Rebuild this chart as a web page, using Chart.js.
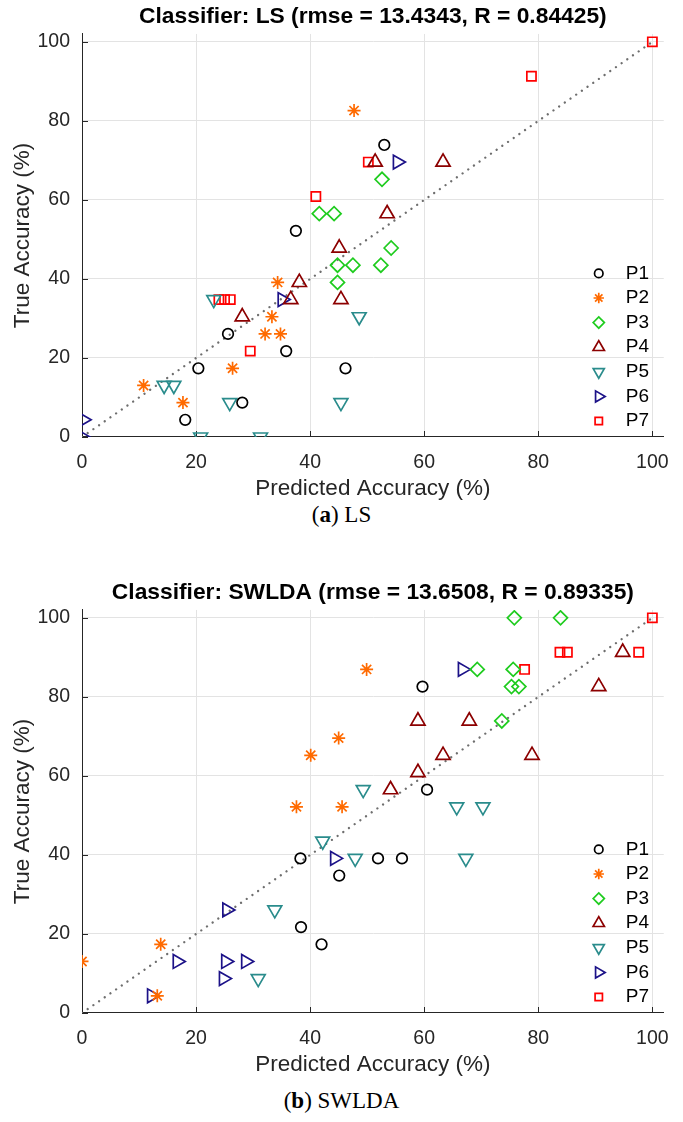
<!DOCTYPE html>
<html>
<head>
<meta charset="utf-8">
<script src="https://cdn.jsdelivr.net/npm/chart.js@4.4.1/dist/chart.umd.min.js"></script>
<style>
  html, body { margin: 0; padding: 0; background: #fff; }
  body { width: 683px; height: 1122px; position: relative; overflow: hidden; }
  .panel { position: absolute; left: 0; width: 683px; }
  canvas { display: block; }
  .caption {
    position: absolute; left: 0; width: 683px; text-align: center;
    font-family: "Liberation Serif", "DejaVu Serif", serif; font-size: 23px; color: #000;
  }
</style>
</head>
<body>
<div class="panel" style="top:0"><canvas id="chartLS" width="683" height="502"></canvas></div>
<div class="caption" style="top:502px">(<b>a</b>) LS</div>
<div class="panel" style="top:576px"><canvas id="chartSWLDA" width="683" height="502"></canvas></div>
<div class="caption" style="top:1088px">(<b>b</b>) SWLDA</div>

<script>
// participants and tick values
const series = ["P1", "P2", "P3", "P4", "P5", "P6", "P7"];
const xTicks = [0, 20, 40, 60, 80, 100];
const yTicks = [0, 20, 40, 60, 80, 100];
const diagLine = [0, 100];

// LS classifier: predicted vs true accuracy (%)
const lsPredP1 = [37.5, 53.0, 25.6, 35.8, 46.2, 20.4, 28.1, 18.1];
const lsTrueP1 = [52.17, 73.91, 26.09, 21.74, 17.39, 17.39, 8.70, 4.35];
const lsPredP2 = [47.7, 34.3, 33.3, 32.1, 34.8, 26.4, 10.8, 17.7];
const lsTrueP2 = [82.61, 39.13, 30.43, 26.09, 26.09, 17.39, 13.04, 8.70];
const lsPredP3 = [41.6, 44.2, 52.6, 44.8, 47.5, 44.8, 52.4, 54.2];
const lsTrueP3 = [56.52, 56.52, 65.22, 43.48, 43.48, 39.13, 43.48, 47.83];
const lsPredP4 = [51.4, 63.3, 53.5, 45.1, 45.4, 38.1, 36.6, 28.1];
const lsTrueP4 = [69.57, 69.57, 56.52, 47.83, 34.78, 39.13, 34.78, 30.43];
const lsPredP5 = [48.6, 23.1, 14.4, 16.1, 25.9, 45.4, 20.8, 31.3];
const lsTrueP5 = [30.43, 34.78, 13.04, 13.04, 8.70, 8.70, 0, 0];
const lsPredP6 = [55.3, 35.1, 0.2, 0];
const lsTrueP6 = [69.57, 34.78, 4.35, 0];
const lsPredP7 = [100, 78.8, 50.2, 41.0, 24.0, 25.0, 26.0, 29.5];
const lsTrueP7 = [100, 91.30, 69.57, 60.87, 34.78, 34.78, 34.78, 21.74];

// SWLDA classifier
const swPredP1 = [59.7, 60.5, 51.9, 56.1, 38.3, 45.1, 38.4, 42.0];
const swTrueP1 = [82.61, 56.52, 39.13, 39.13, 39.13, 34.78, 21.74, 17.39];
const swPredP2 = [49.9, 45.0, 40.1, 37.6, 45.6, 13.8, 0, 13.2];
const swTrueP2 = [86.96, 69.57, 65.22, 52.17, 52.17, 17.39, 13.04, 4.35];
const swPredP3 = [75.8, 83.9, 69.3, 75.6, 75.3, 76.6, 73.6];
const swTrueP3 = [100, 100, 86.96, 86.96, 82.61, 82.61, 73.91];
const swPredP4 = [94.8, 90.6, 58.9, 67.9, 63.3, 78.9, 58.9, 54.1];
const swTrueP4 = [91.30, 82.61, 73.91, 73.91, 65.22, 65.22, 60.87, 56.52];
const swPredP5 = [65.7, 70.3, 67.3, 49.3, 42.2, 47.9, 33.8, 30.9];
const swTrueP5 = [52.17, 52.17, 39.13, 56.52, 43.48, 39.13, 26.09, 8.70];
const swPredP6 = [66.7, 44.3, 25.4, 16.7, 25.2, 28.7, 24.8, 12.2];
const swTrueP6 = [86.96, 39.13, 26.09, 13.04, 13.04, 13.04, 8.70, 4.35];
const swPredP7 = [100, 83.8, 85.1, 97.6, 77.6];
const swTrueP7 = [100, 91.30, 91.30, 91.30, 86.96];

// marker look per participant (matlab style: o * d ^ v > s)
const colors = ["#000000", "#ff6a00", "#1fcc1f", "#8c0000", "#2a8c8c", "#1c1288", "#ff0000"];
const markerStyles = ["circle", "star", "rectRot", "triangle", "triangle", "triangle", "rect"];
const markerRotations = [0, 0, 0, 0, 180, 90, 0];
const markerRadii = [5.3, 6.5, 7.0, 8.2, 8.0, 8.0, 6.5];

const FONT = '"Liberation Sans", Arial, sans-serif';
const AXIS_COLOR = "#262626";

// matlab draws the tick marks inside the axes
const innerTicks = {
  id: "innerTicks",
  beforeDatasetsDraw(chart) {
    const { ctx, chartArea, scales } = chart;
    ctx.save();
    ctx.strokeStyle = AXIS_COLOR;
    ctx.lineWidth = 1;
    ctx.beginPath();
    scales.x.ticks.forEach(t => {
      const px = Math.round(scales.x.getPixelForValue(t.value)) + 0.5;
      ctx.moveTo(px, chartArea.bottom);
      ctx.lineTo(px, chartArea.bottom - 6);
    });
    scales.y.ticks.forEach(t => {
      const py = Math.round(scales.y.getPixelForValue(t.value)) + 0.5;
      ctx.moveTo(chartArea.left, py);
      ctx.lineTo(chartArea.left + 6, py);
    });
    ctx.stroke();
    ctx.restore();
  }
};

// legend without box, bottom right inside the plot
const insideLegend = {
  id: "insideLegend",
  afterDatasetsDraw(chart) {
    const { ctx, chartArea } = chart;
    const rows = chart.data.datasets.filter(d => !d.isDiagonal);
    const drawPoint = Chart.helpers && Chart.helpers.drawPoint;
    ctx.save();
    rows.forEach((ds, i) => {
      const y = chartArea.bottom - 16 - (rows.length - 1 - i) * 24.6;
      const x = chartArea.right - 65;
      if (drawPoint) {
        ctx.strokeStyle = ds.pointBorderColor;
        ctx.fillStyle = "rgba(0,0,0,0)";
        ctx.lineWidth = ds.pointBorderWidth;
        drawPoint(ctx, {
          pointStyle: ds.pointStyle,
          rotation: ds.pointRotation,
          radius: ds.pointRadius * 0.8,
          borderWidth: ds.pointBorderWidth
        }, x, y);
      }
      ctx.fillStyle = "#000";
      ctx.font = "19px " + FONT;
      ctx.textAlign = "left";
      ctx.textBaseline = "middle";
      ctx.fillText(ds.label, chartArea.right - 38, y);
    });
    ctx.restore();
  }
};

function makeChart(id, title, preds, trues) {
  const datasets = series.map((name, i) => ({
    label: name,
    data: preds[i].map((v, k) => ({ x: v, y: trues[i][k] })),
    pointStyle: markerStyles[i],
    pointRotation: markerRotations[i],
    pointRadius: markerRadii[i],
    pointHoverRadius: markerRadii[i],
    pointBorderColor: colors[i],
    pointBackgroundColor: "rgba(0,0,0,0)",
    pointBorderWidth: 1.7,
    showLine: false
  }));
  // dotted y = x reference line
  datasets.push({
    label: "y = x",
    isDiagonal: true,
    data: diagLine.map(v => ({ x: v, y: v })),
    showLine: true,
    borderColor: "#6e6e6e",
    borderWidth: 2.3,
    borderDash: [0.01, 6.9],
    borderCapStyle: "round",
    pointRadius: 0,
    fill: false
  });

  return new Chart(document.getElementById(id), {
    type: "scatter",
    data: { datasets: datasets },
    options: {
      responsive: false,
      animation: false,
      devicePixelRatio: 1,
      events: [],
      layout: { padding: { left: 0, right: 13, top: 0, bottom: 0 } },
      plugins: {
        legend: { display: false },
        tooltip: { enabled: false },
        title: {
          display: true,
          fullSize: false,
          text: title,
          color: "#000",
          font: { family: FONT, size: 22.8, weight: "bold" },
          padding: { top: 3, bottom: 3.6 }
        }
      },
      scales: {
        x: {
          type: "linear",
          min: 0,
          max: 102,
          afterBuildTicks: s => { s.ticks = xTicks.map(v => ({ value: v })); },
          afterFit: s => { s.height = 65; },
          grid: { color: "#e3e3e3", lineWidth: 1, drawTicks: false },
          border: { display: true, color: AXIS_COLOR, width: 1 },
          ticks: { padding: 14, color: AXIS_COLOR, font: { family: FONT, size: 19.5 }, maxRotation: 0, autoSkip: false },
          title: { display: true, text: "Predicted Accuracy (%)", color: AXIS_COLOR, font: { family: FONT, size: 22.5 }, padding: { top: 0, bottom: 0 } }
        },
        y: {
          type: "linear",
          min: 0,
          max: 102,
          afterBuildTicks: s => { s.ticks = yTicks.map(v => ({ value: v })); },
          afterFit: s => { s.width = 82; },
          grid: { color: "#e3e3e3", lineWidth: 1, drawTicks: false },
          border: { display: true, color: AXIS_COLOR, width: 1 },
          ticks: { padding: 12, color: AXIS_COLOR, font: { family: FONT, size: 19.5 }, autoSkip: false },
          title: { display: true, text: "True Accuracy (%)", color: AXIS_COLOR, font: { family: FONT, size: 22.5 }, padding: { top: 9, bottom: 0 } }
        }
      }
    },
    plugins: [innerTicks, insideLegend]
  });
}

makeChart("chartLS", "Classifier: LS (rmse = 13.4343, R = 0.84425)",
  [lsPredP1, lsPredP2, lsPredP3, lsPredP4, lsPredP5, lsPredP6, lsPredP7],
  [lsTrueP1, lsTrueP2, lsTrueP3, lsTrueP4, lsTrueP5, lsTrueP6, lsTrueP7]);

makeChart("chartSWLDA", "Classifier: SWLDA (rmse = 13.6508, R = 0.89335)",
  [swPredP1, swPredP2, swPredP3, swPredP4, swPredP5, swPredP6, swPredP7],
  [swTrueP1, swTrueP2, swTrueP3, swTrueP4, swTrueP5, swTrueP6, swTrueP7]);
</script>
</body>
</html>
